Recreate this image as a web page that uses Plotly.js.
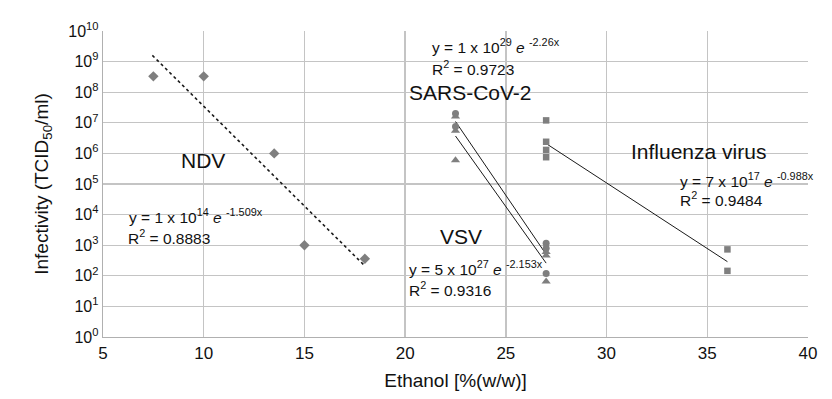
<!DOCTYPE html>
<html>
<head>
<meta charset="utf-8">
<script src="https://cdn.plot.ly/plotly-3.0.1.min.js"></script>
<style>html,body{margin:0;padding:0;background:#fff;}#chart{width:832px;height:399px;}</style>
</head>
<body>
<div id="chart"></div>
<script>
// NDV (diamonds)
const ndvX = [7.5, 10, 13.5, 15, 18];
const ndvY = [3.3e8, 3.3e8, 1.0e6, 1.0e3, 3.6e2];
const ndvTrendX = [7.45, 18];
const ndvTrendY = [1.6e9, 2.1e2];

// SARS-CoV-2 (circles)
const sarsX = [22.5, 22.5, 27, 27, 27];
const sarsY = [2.0e7, 7.5e6, 1.15e3, 8.0e2, 1.2e2];
const sarsTrendX = [22.5, 27];
const sarsTrendY = [1.1e7, 5.0e2];

// VSV (triangles)
const vsvX = [22.5, 22.5, 22.5, 27, 27, 27];
const vsvY = [1.6e7, 5.5e6, 6.0e5, 6.0e2, 4.6e2, 6.5e1];
const vsvTrendX = [22.5, 27];
const vsvTrendY = [3.7e6, 2.6e2];

// Influenza virus (squares)
const fluX = [27, 27, 27, 27, 36, 36];
const fluY = [1.2e7, 2.4e6, 1.3e6, 7.5e5, 7.3e2, 1.45e2];
const fluTrendX = [26.95, 36];
const fluTrendY = [2.2e6, 2.9e2];

// Axis ticks
const xTicks = [5, 10, 15, 20, 25, 30, 35, 40];
const yTickVals = [1, 10, 100, 1e3, 1e4, 1e5, 1e6, 1e7, 1e8, 1e9, 1e10];
const yTickText = ['10<sup>0</sup>','10<sup>1</sup>','10<sup>2</sup>','10<sup>3</sup>','10<sup>4</sup>','10<sup>5</sup>','10<sup>6</sup>','10<sup>7</sup>','10<sup>8</sup>','10<sup>9</sup>','10<sup>10</sup>'];

const mc = '#7f7f7f';
const lc = '#1a1a1a';
const FONT = 'Liberation Sans, Arial, sans-serif';

const traces = [
  {x: ndvTrendX, y: ndvTrendY, mode: 'lines', line: {color: lc, width: 1.6, dash: 'dot'}},
  {x: sarsTrendX, y: sarsTrendY, mode: 'lines', line: {color: lc, width: 1}},
  {x: vsvTrendX, y: vsvTrendY, mode: 'lines', line: {color: lc, width: 1}},
  {x: fluTrendX, y: fluTrendY, mode: 'lines', line: {color: lc, width: 1}},
  {x: ndvX, y: ndvY, mode: 'markers', marker: {symbol: 'diamond', size: 8, color: mc}},
  {x: vsvX, y: vsvY, mode: 'markers', marker: {symbol: 'triangle-up', size: 8, color: mc}},
  {x: sarsX, y: sarsY, mode: 'markers', marker: {symbol: 'circle', size: 7, color: mc}},
  {x: fluX, y: fluY, mode: 'markers', marker: {symbol: 'square', size: 6.5, color: mc}}
];

function ann(x, ly, text, size) {
  return {x: x, y: ly, xref: 'x', yref: 'y', text: text, showarrow: false,
          xanchor: 'left', yanchor: 'middle', font: {family: FONT, size: size, color: '#111'}};
}
const EQ = 15.5, LB = 21;
const annotations = [
  ann(21.24, 9.51, 'y = 1 x 10<sup>29</sup> <i>e</i> <sup>-2.26x</sup>', EQ),
  ann(21.24, 8.79, 'R<sup>2</sup> = 0.9723', EQ),
  ann(20.1, 8.0, 'SARS-CoV-2', LB),
  ann(8.75, 5.78, 'NDV', LB),
  ann(31.1, 6.05, 'Influenza virus', LB),
  ann(33.55, 5.13, 'y = 7 x 10<sup>17</sup> <i>e</i> <sup>-0.988x</sup>', EQ),
  ann(33.55, 4.51, 'R<sup>2</sup> = 0.9484', EQ),
  ann(6.2, 3.95, 'y = 1 x 10<sup>14</sup> <i>e</i> <sup>-1.509x</sup>', EQ),
  ann(6.15, 3.27, 'R<sup>2</sup> = 0.8883', EQ),
  ann(21.65, 3.30, 'VSV', LB),
  ann(20.1, 2.25, 'y = 5 x 10<sup>27</sup> <i>e</i> <sup>-2.153x</sup>', EQ),
  ann(20.1, 1.57, 'R<sup>2</sup> = 0.9316', EQ)
];

const layout = {
  width: 832, height: 399,
  margin: {l: 103, r: 24, t: 31, b: 62},
  paper_bgcolor: '#fff', plot_bgcolor: '#fff',
  showlegend: false,
  font: {family: FONT, color: '#111'},
  xaxis: {
    range: [5, 40], tickvals: xTicks, ticktext: xTicks.map(String),
    showgrid: true, gridcolor: '#c4c4c4', gridwidth: 1.3,
    showline: true, linecolor: '#b0b0b0', linewidth: 1.3,
    zeroline: false, ticks: '', ticklen: 0,
    tickfont: {family: FONT, size: 17, color: '#111'},
    title: {text: 'Ethanol [%(w/w)]', font: {family: FONT, size: 19, color: '#111'}, standoff: 12},
    automargin: false
  },
  yaxis: {
    type: 'log', range: [0, 10], tickvals: yTickVals, ticktext: yTickText,
    showgrid: true, gridcolor: '#c4c4c4', gridwidth: 1.3,
    showline: true, linecolor: '#b0b0b0', linewidth: 1.3,
    zeroline: false, ticks: '', ticklen: 0,
    tickfont: {family: FONT, size: 16, color: '#111'},
    title: {text: 'Infectivity (TCID<sub>50</sub>/ml)', font: {family: FONT, size: 19, color: '#111'}, standoff: 14},
    automargin: false
  },
  annotations: annotations
};

Plotly.newPlot('chart', traces, layout, {displayModeBar: false, staticPlot: true});
</script>
</body>
</html>
